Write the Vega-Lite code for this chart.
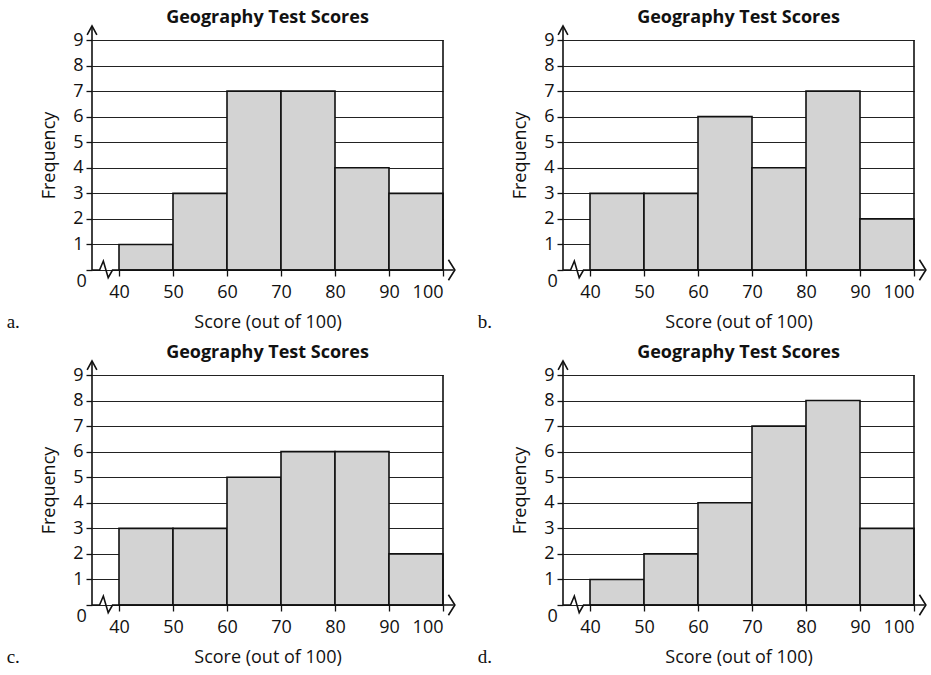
{
  "$schema": "https://vega.github.io/schema/vega-lite/v6.json",
  "background": "white",
  "padding": {"left": 6, "top": 8, "right": 4, "bottom": 0},
  "datasets": {
    "bars_a": [
      {"start": 40, "end": 50, "count": 1}, {"start": 50, "end": 60, "count": 3},
      {"start": 60, "end": 70, "count": 7}, {"start": 70, "end": 80, "count": 7},
      {"start": 80, "end": 90, "count": 4}, {"start": 90, "end": 100, "count": 3}
    ],
    "bars_b": [
      {"start": 40, "end": 50, "count": 3}, {"start": 50, "end": 60, "count": 3},
      {"start": 60, "end": 70, "count": 6}, {"start": 70, "end": 80, "count": 4},
      {"start": 80, "end": 90, "count": 7}, {"start": 90, "end": 100, "count": 2}
    ],
    "bars_c": [
      {"start": 40, "end": 50, "count": 3}, {"start": 50, "end": 60, "count": 3},
      {"start": 60, "end": 70, "count": 5}, {"start": 70, "end": 80, "count": 6},
      {"start": 80, "end": 90, "count": 6}, {"start": 90, "end": 100, "count": 2}
    ],
    "bars_d": [
      {"start": 40, "end": 50, "count": 1}, {"start": 50, "end": 60, "count": 2},
      {"start": 60, "end": 70, "count": 4}, {"start": 70, "end": 80, "count": 7},
      {"start": 80, "end": 90, "count": 8}, {"start": 90, "end": 100, "count": 3}
    ],
    "decor": [
      {"series": "yaxis", "ord": 0, "x": 35, "y": 0}, {"series": "yaxis", "ord": 1, "x": 35, "y": 9.55},
      {"series": "yarrow", "ord": 0, "x": 34.1, "y": 9.2}, {"series": "yarrow", "ord": 1, "x": 35, "y": 9.55}, {"series": "yarrow", "ord": 2, "x": 35.9, "y": 9.2},
      {"series": "xaxis", "ord": 0, "x": 35, "y": 0}, {"series": "xaxis", "ord": 1, "x": 36.4, "y": 0},
      {"series": "xaxis", "ord": 2, "x": 37.1, "y": 0.35}, {"series": "xaxis", "ord": 3, "x": 38, "y": -0.3},
      {"series": "xaxis", "ord": 4, "x": 38.8, "y": 0}, {"series": "xaxis", "ord": 5, "x": 102, "y": 0},
      {"series": "xarrow", "ord": 0, "x": 101, "y": 0.4}, {"series": "xarrow", "ord": 1, "x": 102.2, "y": 0}, {"series": "xarrow", "ord": 2, "x": 101, "y": -0.4},
      {"series": "right", "ord": 0, "x": 100, "y": 0}, {"series": "right", "ord": 1, "x": 100, "y": 9}
    ]
  },
  "config": {
    "view": {"stroke": null},
    "font": "Open Sans",
    "title": {"font": "Open Sans", "fontSize": 18, "fontWeight": "bold", "color": "#111", "offset": -4},
    "axis": {"labelFont": "Open Sans", "titleFont": "Open Sans", "labelColor": "#111", "titleColor": "#111", "titleFontWeight": "normal", "labelOverlap": false},
    "axisX": {"values": [40, 50, 60, 70, 80, 90, 100], "title": "Score (out of 100)", "titleFontSize": 18, "titlePadding": 12, "labelFontSize": 18, "tickSize": 6, "tickColor": "#111", "tickWidth": 1.3, "labelPadding": 7, "labelOverlap": false, "domain": false, "grid": false},
    "axisY": {"tickCount": 9, "title": "Frequency", "titleFontSize": 18, "titlePadding": 14, "labelFontSize": 18, "tickSize": 6, "tickColor": "#111", "tickWidth": 1.3, "labelPadding": 3, "labelOverlap": false, "domain": false, "grid": true, "gridColor": "#222", "gridWidth": 1.2}
  },
  "columns": 2,
  "spacing": {"row": 10, "column": 18},
  "concat": [
    {
      "title": "Geography Test Scores", "width": 351, "height": 230,
      "layer": [
        {"data": {"name": "bars_a"}, "mark": {"type": "rect", "fill": "#d3d3d3", "stroke": "#111", "strokeWidth": 1.6},
         "encoding": {
           "x": {"field": "start", "type": "quantitative", "scale": {"domain": [35, 100], "nice": false, "zero": false}, "axis": {"title": "Score (out of 100)"}},
           "x2": {"field": "end"},
           "y": {"field": "count", "type": "quantitative", "scale": {"domain": [0, 9], "nice": false}, "axis": {"title": "Frequency", "tickCount": 9, "labelExpr": "datum.value == 0 ? '' : datum.label"}}
         }},
        {"data": {"name": "decor"}, "mark": {"type": "line", "color": "#111", "strokeWidth": 1.6},
         "encoding": {"x": {"field": "x", "type": "quantitative", "axis": {"title": "Score (out of 100)"}}, "y": {"field": "y", "type": "quantitative", "axis": {"title": "Frequency", "tickCount": 9, "labelExpr": "datum.value == 0 ? '' : datum.label"}}, "detail": {"field": "series"}, "order": {"field": "ord"}}},
        {"data": {"values": [{"t": "0"}]}, "mark": {"type": "text", "fontSize": 18, "font": "Open Sans", "color": "#111"},
         "encoding": {"x": {"datum": 33.1}, "y": {"datum": -0.45}, "text": {"field": "t"}}},
        {"data": {"values": [{"t": "a."}]}, "mark": {"type": "text", "fontSize": 19, "font": "Liberation Serif", "color": "#111", "align": "left"},
         "encoding": {"x": {"datum": 19.2}, "y": {"datum": -2.05}, "text": {"field": "t"}}}
      ]
    },
    {
      "title": "Geography Test Scores", "width": 351, "height": 230,
      "layer": [
        {"data": {"name": "bars_b"}, "mark": {"type": "rect", "fill": "#d3d3d3", "stroke": "#111", "strokeWidth": 1.6},
         "encoding": {
           "x": {"field": "start", "type": "quantitative", "scale": {"domain": [35, 100], "nice": false, "zero": false}, "axis": {"title": "Score (out of 100)"}},
           "x2": {"field": "end"},
           "y": {"field": "count", "type": "quantitative", "scale": {"domain": [0, 9], "nice": false}, "axis": {"title": "Frequency", "tickCount": 9, "labelExpr": "datum.value == 0 ? '' : datum.label"}}
         }},
        {"data": {"name": "decor"}, "mark": {"type": "line", "color": "#111", "strokeWidth": 1.6},
         "encoding": {"x": {"field": "x", "type": "quantitative", "axis": {"title": "Score (out of 100)"}}, "y": {"field": "y", "type": "quantitative", "axis": {"title": "Frequency", "tickCount": 9, "labelExpr": "datum.value == 0 ? '' : datum.label"}}, "detail": {"field": "series"}, "order": {"field": "ord"}}},
        {"data": {"values": [{"t": "0"}]}, "mark": {"type": "text", "fontSize": 18, "font": "Open Sans", "color": "#111"},
         "encoding": {"x": {"datum": 33.1}, "y": {"datum": -0.45}, "text": {"field": "t"}}},
        {"data": {"values": [{"t": "b."}]}, "mark": {"type": "text", "fontSize": 19, "font": "Liberation Serif", "color": "#111", "align": "left"},
         "encoding": {"x": {"datum": 19.2}, "y": {"datum": -2.05}, "text": {"field": "t"}}}
      ]
    },
    {
      "title": "Geography Test Scores", "width": 351, "height": 230,
      "layer": [
        {"data": {"name": "bars_c"}, "mark": {"type": "rect", "fill": "#d3d3d3", "stroke": "#111", "strokeWidth": 1.6},
         "encoding": {
           "x": {"field": "start", "type": "quantitative", "scale": {"domain": [35, 100], "nice": false, "zero": false}, "axis": {"title": "Score (out of 100)"}},
           "x2": {"field": "end"},
           "y": {"field": "count", "type": "quantitative", "scale": {"domain": [0, 9], "nice": false}, "axis": {"title": "Frequency", "tickCount": 9, "labelExpr": "datum.value == 0 ? '' : datum.label"}}
         }},
        {"data": {"name": "decor"}, "mark": {"type": "line", "color": "#111", "strokeWidth": 1.6},
         "encoding": {"x": {"field": "x", "type": "quantitative", "axis": {"title": "Score (out of 100)"}}, "y": {"field": "y", "type": "quantitative", "axis": {"title": "Frequency", "tickCount": 9, "labelExpr": "datum.value == 0 ? '' : datum.label"}}, "detail": {"field": "series"}, "order": {"field": "ord"}}},
        {"data": {"values": [{"t": "0"}]}, "mark": {"type": "text", "fontSize": 18, "font": "Open Sans", "color": "#111"},
         "encoding": {"x": {"datum": 33.1}, "y": {"datum": -0.45}, "text": {"field": "t"}}},
        {"data": {"values": [{"t": "c."}]}, "mark": {"type": "text", "fontSize": 19, "font": "Liberation Serif", "color": "#111", "align": "left"},
         "encoding": {"x": {"datum": 19.2}, "y": {"datum": -2.05}, "text": {"field": "t"}}}
      ]
    },
    {
      "title": "Geography Test Scores", "width": 351, "height": 230,
      "layer": [
        {"data": {"name": "bars_d"}, "mark": {"type": "rect", "fill": "#d3d3d3", "stroke": "#111", "strokeWidth": 1.6},
         "encoding": {
           "x": {"field": "start", "type": "quantitative", "scale": {"domain": [35, 100], "nice": false, "zero": false}, "axis": {"title": "Score (out of 100)"}},
           "x2": {"field": "end"},
           "y": {"field": "count", "type": "quantitative", "scale": {"domain": [0, 9], "nice": false}, "axis": {"title": "Frequency", "tickCount": 9, "labelExpr": "datum.value == 0 ? '' : datum.label"}}
         }},
        {"data": {"name": "decor"}, "mark": {"type": "line", "color": "#111", "strokeWidth": 1.6},
         "encoding": {"x": {"field": "x", "type": "quantitative", "axis": {"title": "Score (out of 100)"}}, "y": {"field": "y", "type": "quantitative", "axis": {"title": "Frequency", "tickCount": 9, "labelExpr": "datum.value == 0 ? '' : datum.label"}}, "detail": {"field": "series"}, "order": {"field": "ord"}}},
        {"data": {"values": [{"t": "0"}]}, "mark": {"type": "text", "fontSize": 18, "font": "Open Sans", "color": "#111"},
         "encoding": {"x": {"datum": 33.1}, "y": {"datum": -0.45}, "text": {"field": "t"}}},
        {"data": {"values": [{"t": "d."}]}, "mark": {"type": "text", "fontSize": 19, "font": "Liberation Serif", "color": "#111", "align": "left"},
         "encoding": {"x": {"datum": 19.2}, "y": {"datum": -2.05}, "text": {"field": "t"}}}
      ]
    }
  ]
}
